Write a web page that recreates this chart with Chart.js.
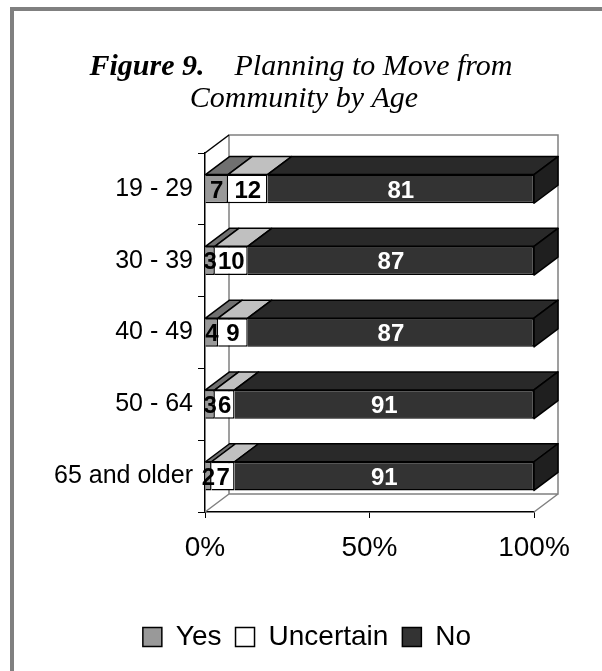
<!DOCTYPE html>
<html>
<head>
<meta charset="utf-8">
<script src="https://cdn.jsdelivr.net/npm/chart.js@4.4.1/dist/chart.umd.min.js"></script>
<style>
    body { margin: 0; background: #ffffff; overflow: hidden; }
    #wrap { position: relative; width: 602px; height: 671px; }
    #frame { position: absolute; left: 10px; top: 7px; width: 640px; height: 720px;
             border-left: 4px solid #808080; border-top: 4px solid #808080; }
    canvas { position: absolute; left: 0; top: 0; }
</style>
</head>
<body>
<div id="wrap">
    <div id="frame"></div>
    <canvas id="chart" width="602" height="671"></canvas>
</div>
<script>
// VARIABLE DECLARATIONS:
var categories = ['19 - 29', '30 - 39', '40 - 49', '50 - 64', '65 and older'];
var yesValues = [7, 3, 4, 3, 2];
var uncertainValues = [12, 10, 9, 6, 7];
var noValues = [81, 87, 87, 91, 91];
var seriesNames = ['Yes', 'Uncertain', 'No'];

var titleBold = 'Figure 9.';
var titleLine1 = 'Planning to Move from';
var titleLine2 = 'Community by Age';

// front, top and side colours of the 3D bars
var frontColors = ['#999999', '#ffffff', '#333333'];
var topColors = ['#707070', '#c0c0c0', '#292929'];
var sideColor = '#1f1f1f';
var labelColors = ['#000000', '#000000', '#ffffff'];

var depthX = 24;
var depthY = 18;

var moveChart;

window.onload = function() {
    createChart();
};

// back wall, floor and left wall of the 3D box
var wallsPlugin = {
    id: 'walls',
    beforeDatasetsDraw: function(chart) {
        var ctx = chart.ctx;
        var area = chart.chartArea;
        var x = chart.scales.x;
        var L = x.getPixelForValue(0);
        var R = x.getPixelForValue(100);
        var T = area.top;
        var B = area.bottom;

        ctx.save();
        ctx.lineWidth = 1.5;
        ctx.strokeStyle = '#808080';
        ctx.beginPath();
        ctx.moveTo(L + depthX, B - depthY);
        ctx.lineTo(L + depthX, T - depthY);
        ctx.lineTo(R + depthX, T - depthY);
        ctx.lineTo(R + depthX, B - depthY);
        ctx.lineTo(L + depthX, B - depthY);
        ctx.moveTo(L, B);
        ctx.lineTo(L + depthX, B - depthY);
        ctx.moveTo(R, B);
        ctx.lineTo(R + depthX, B - depthY);
        ctx.stroke();

        ctx.strokeStyle = '#000000';
        ctx.beginPath();
        ctx.moveTo(L, T);
        ctx.lineTo(L + depthX, T - depthY);
        ctx.stroke();
        ctx.restore();
    }
};

// top and side faces, then the value labels
var bars3dPlugin = {
    id: 'bars3d',
    afterDatasetsDraw: function(chart) {
        var ctx = chart.ctx;
        var last = chart.data.datasets.length - 1;
        ctx.save();
        ctx.lineWidth = 1.5;
        ctx.strokeStyle = '#000000';
        ctx.lineJoin = 'round';

        chart.data.datasets.forEach(function(ds, i) {
            var meta = chart.getDatasetMeta(i);
            meta.data.forEach(function(bar) {
                var p = bar.getProps(['x', 'y', 'base', 'height'], true);
                var top = p.y - p.height / 2;
                var bottom = p.y + p.height / 2;

                ctx.fillStyle = topColors[i];
                ctx.beginPath();
                ctx.moveTo(p.base, top);
                ctx.lineTo(p.x, top);
                ctx.lineTo(p.x + depthX, top - depthY);
                ctx.lineTo(p.base + depthX, top - depthY);
                ctx.closePath();
                ctx.fill();
                ctx.stroke();

                if (i === last) {
                    ctx.fillStyle = sideColor;
                    ctx.beginPath();
                    ctx.moveTo(p.x, top);
                    ctx.lineTo(p.x + depthX, top - depthY);
                    ctx.lineTo(p.x + depthX, bottom - depthY);
                    ctx.lineTo(p.x, bottom);
                    ctx.closePath();
                    ctx.fill();
                    ctx.stroke();
                }
            });
        });

        ctx.font = 'bold 24px "Liberation Sans", Arial, sans-serif';
        ctx.textAlign = 'center';
        ctx.textBaseline = 'middle';
        chart.data.datasets.forEach(function(ds, i) {
            var meta = chart.getDatasetMeta(i);
            meta.data.forEach(function(bar, j) {
                var p = bar.getProps(['x', 'y', 'base'], true);
                ctx.fillStyle = labelColors[i];
                ctx.fillText(String(ds.data[j]), (p.x + p.base) / 2, p.y + 2);
            });
        });
        ctx.restore();
    }
};

var titlePlugin = {
    id: 'mixedTitle',
    afterDraw: function(chart) {
        var ctx = chart.ctx;
        var boldFont = 'bold italic 30px "Liberation Serif", "Times New Roman", serif';
        var italicFont = 'italic 30px "Liberation Serif", "Times New Roman", serif';
        var gap = 30;

        ctx.save();
        ctx.fillStyle = '#000000';
        ctx.textBaseline = 'alphabetic';
        ctx.textAlign = 'left';

        ctx.font = boldFont;
        var w1 = ctx.measureText(titleBold).width;
        ctx.font = italicFont;
        var w2 = ctx.measureText(titleLine1).width;
        var start = 301 - (w1 + gap + w2) / 2;

        ctx.font = boldFont;
        ctx.fillText(titleBold, start, 75);
        ctx.font = italicFont;
        ctx.fillText(titleLine1, start + w1 + gap, 75);

        ctx.textAlign = 'center';
        ctx.fillText(titleLine2, 304, 107);
        ctx.restore();
    }
};

function createChart(){
    var chart = document.getElementById('chart').getContext('2d');
    var allValues = [yesValues, uncertainValues, noValues];

    moveChart = new Chart(chart, {
        type: 'bar',
        data: {
            labels: categories,
            datasets: seriesNames.map(function(name, i) {
                return {
                    label: name,
                    data: allValues[i],
                    backgroundColor: frontColors[i],
                    borderColor: '#000000',
                    borderWidth: 1.5,
                    categoryPercentage: 1,
                    barPercentage: 0.4
                };
            })
        },
        plugins: [wallsPlugin, bars3dPlugin, titlePlugin],
        options: {
            indexAxis: 'y',
            responsive: false,
            animation: false,
            layout: {
                padding: { top: 153, right: 28, left: 40, bottom: 10 }
            },
            scales: {
                x: {
                    stacked: true,
                    min: 0,
                    max: 100,
                    afterFit: function(scale) { scale.height = 97; },
                    grid: {
                        drawOnChartArea: false,
                        color: '#000000',
                        tickLength: 6
                    },
                    border: { color: '#000000', width: 1.5 },
                    ticks: {
                        stepSize: 50,
                        padding: 13,
                        color: '#000000',
                        font: { family: '"Liberation Sans", Arial, sans-serif', size: 28 },
                        callback: function(v) { return v + '%'; }
                    }
                },
                y: {
                    stacked: true,
                    afterFit: function(scale) { scale.width = 165; },
                    grid: {
                        drawOnChartArea: false,
                        color: '#000000',
                        tickLength: 7
                    },
                    border: { color: '#000000', width: 1.5 },
                    ticks: {
                        padding: 5,
                        color: '#000000',
                        font: { family: '"Liberation Sans", Arial, sans-serif', size: 25 }
                    }
                },
                // empty axis on the right, keeps room for the 3D depth
                yRight: {
                    axis: 'y',
                    position: 'right',
                    afterFit: function(scale) { scale.width = 40; },
                    grid: { display: false },
                    border: { display: false },
                    ticks: { display: false }
                }
            },
            plugins: {
                tooltip: { enabled: false },
                legend: {
                    position: 'bottom',
                    labels: {
                        boxWidth: 19,
                        boxHeight: 19,
                        padding: 14,
                        color: '#000000',
                        font: { family: '"Liberation Sans", Arial, sans-serif', size: 28 }
                    }
                }
            }
        }
    });
}
</script>
</body>
</html>
